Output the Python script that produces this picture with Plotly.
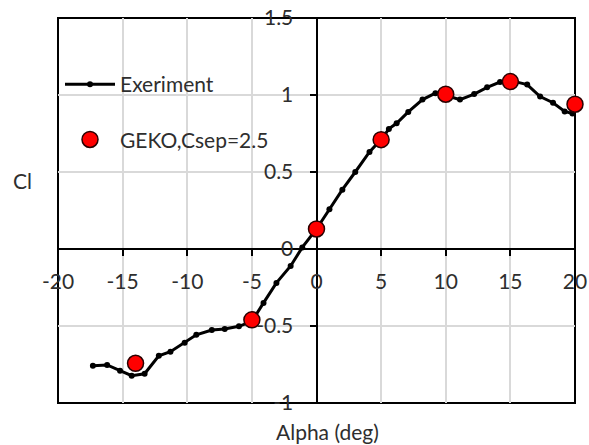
import plotly.graph_objects as go

# Experiment data (alpha in deg, Cl)
exp_alpha = [-17.3, -16.2, -15.2, -14.3, -13.3, -12.2, -11.3, -10.2, -9.3, -8.1, -7.1, -6.0,
             -5.0, -4.1, -3.1, -2.0, -1.1, 0.0, 1.0, 2.0, 3.0, 4.1, 5.1, 5.6, 6.2, 7.1, 8.2,
             9.2, 10.1, 11.1, 12.2, 13.2, 14.2, 15.2, 16.3, 17.3, 18.3, 19.2, 19.8]
exp_cl = [-0.758, -0.753, -0.79, -0.823, -0.81, -0.693, -0.667, -0.608, -0.557, -0.526, -0.52, -0.502,
          -0.47, -0.35, -0.22, -0.11, 0.01, 0.13, 0.258, 0.385, 0.50, 0.63, 0.72, 0.78, 0.816, 0.89, 0.97,
          1.012, 0.995, 0.97, 1.006, 1.05, 1.084, 1.09, 1.068, 0.99, 0.95, 0.893, 0.88]

# GEKO simulation
geko_alpha = [-14, -5, 0, 5, 10, 15, 20]
geko_cl = [-0.742, -0.46, 0.13, 0.71, 1.005, 1.087, 0.94]

x_ticks = [-20, -15, -10, -5, 0, 5, 10, 15, 20]
y_ticks = [-1, -0.5, 0, 0.5, 1, 1.5]

FONT = "Lato"
TXT = "#2e2e2e"

fig = go.Figure()
fig.add_trace(go.Scatter(
    x=exp_alpha, y=exp_cl, mode="lines+markers", name="Exeriment",
    line=dict(color="black", width=3),
    marker=dict(color="black", size=6),
    cliponaxis=False, legendgroup="exp"))
fig.add_trace(go.Scatter(
    x=geko_alpha, y=geko_cl, mode="markers", name="GEKO,Csep=2.5",
    marker=dict(color="#ff0000", size=16, line=dict(color="#2a0000", width=1.5)),
    cliponaxis=False, legendgroup="geko"))

L, R, T, B = 58, 14, 18, 42
W, H = 589, 445
pw, ph = W - L - R, H - T - B

def px2paperx(px):
    return (px - L) / pw

def py2papery(py):
    return (H - B - py) / ph

fig.update_layout(
    width=W, height=H,
    margin=dict(l=L, r=R, t=T, b=B, pad=0, autoexpand=False),
    paper_bgcolor="white", plot_bgcolor="white",
    font=dict(family=FONT, size=21, color=TXT),
    showlegend=True,
    legend=dict(x=px2paperx(60), y=py2papery(64), xanchor="left", yanchor="top",
                bgcolor="rgba(0,0,0,0)", font=dict(size=21, color=TXT), itemwidth=50,
                traceorder="grouped", tracegroupgap=25),
    xaxis=dict(range=[-20, 20], tickvals=x_ticks, ticktext=[str(v) for v in x_ticks],
               showgrid=True, gridcolor="#d9d9d9", gridwidth=1.5, automargin=False,
               zeroline=False, showline=True, linecolor="black", linewidth=2,
               anchor="free", position=0.4, ticks="outside", ticklen=6, tickwidth=2,
               tickcolor="black", layer="below traces", ticklabelstandoff=8),
    yaxis=dict(range=[-1, 1.5], tickvals=y_ticks, ticktext=[("%g" % v) for v in y_ticks],
               showgrid=True, gridcolor="#d9d9d9", gridwidth=1.5, automargin=False,
               zeroline=False, showline=True, linecolor="black", linewidth=2,
               anchor="free", position=0.5, ticks="outside", ticklen=6, tickwidth=2,
               tickcolor="black", layer="below traces", ticklabelstandoff=12),
    shapes=[dict(type="rect", xref="paper", yref="paper", x0=0, x1=1, y0=0, y1=1,
                 line=dict(color="black", width=2), layer="between")],
    annotations=[
        dict(text="Alpha (deg)", xref="paper", yref="paper", x=px2paperx(327), y=py2papery(431),
             xanchor="center", yanchor="middle", showarrow=False, font=dict(size=21, color=TXT)),
        dict(text="Cl", xref="paper", yref="paper", x=px2paperx(22), y=py2papery(180),
             xanchor="center", yanchor="middle", showarrow=False, font=dict(size=21, color=TXT)),
    ],
)

fig.write_html("out.html", config={"displayModeBar": False},
               post_script="document.body.style.margin='0px';document.body.style.overflow='hidden';")
